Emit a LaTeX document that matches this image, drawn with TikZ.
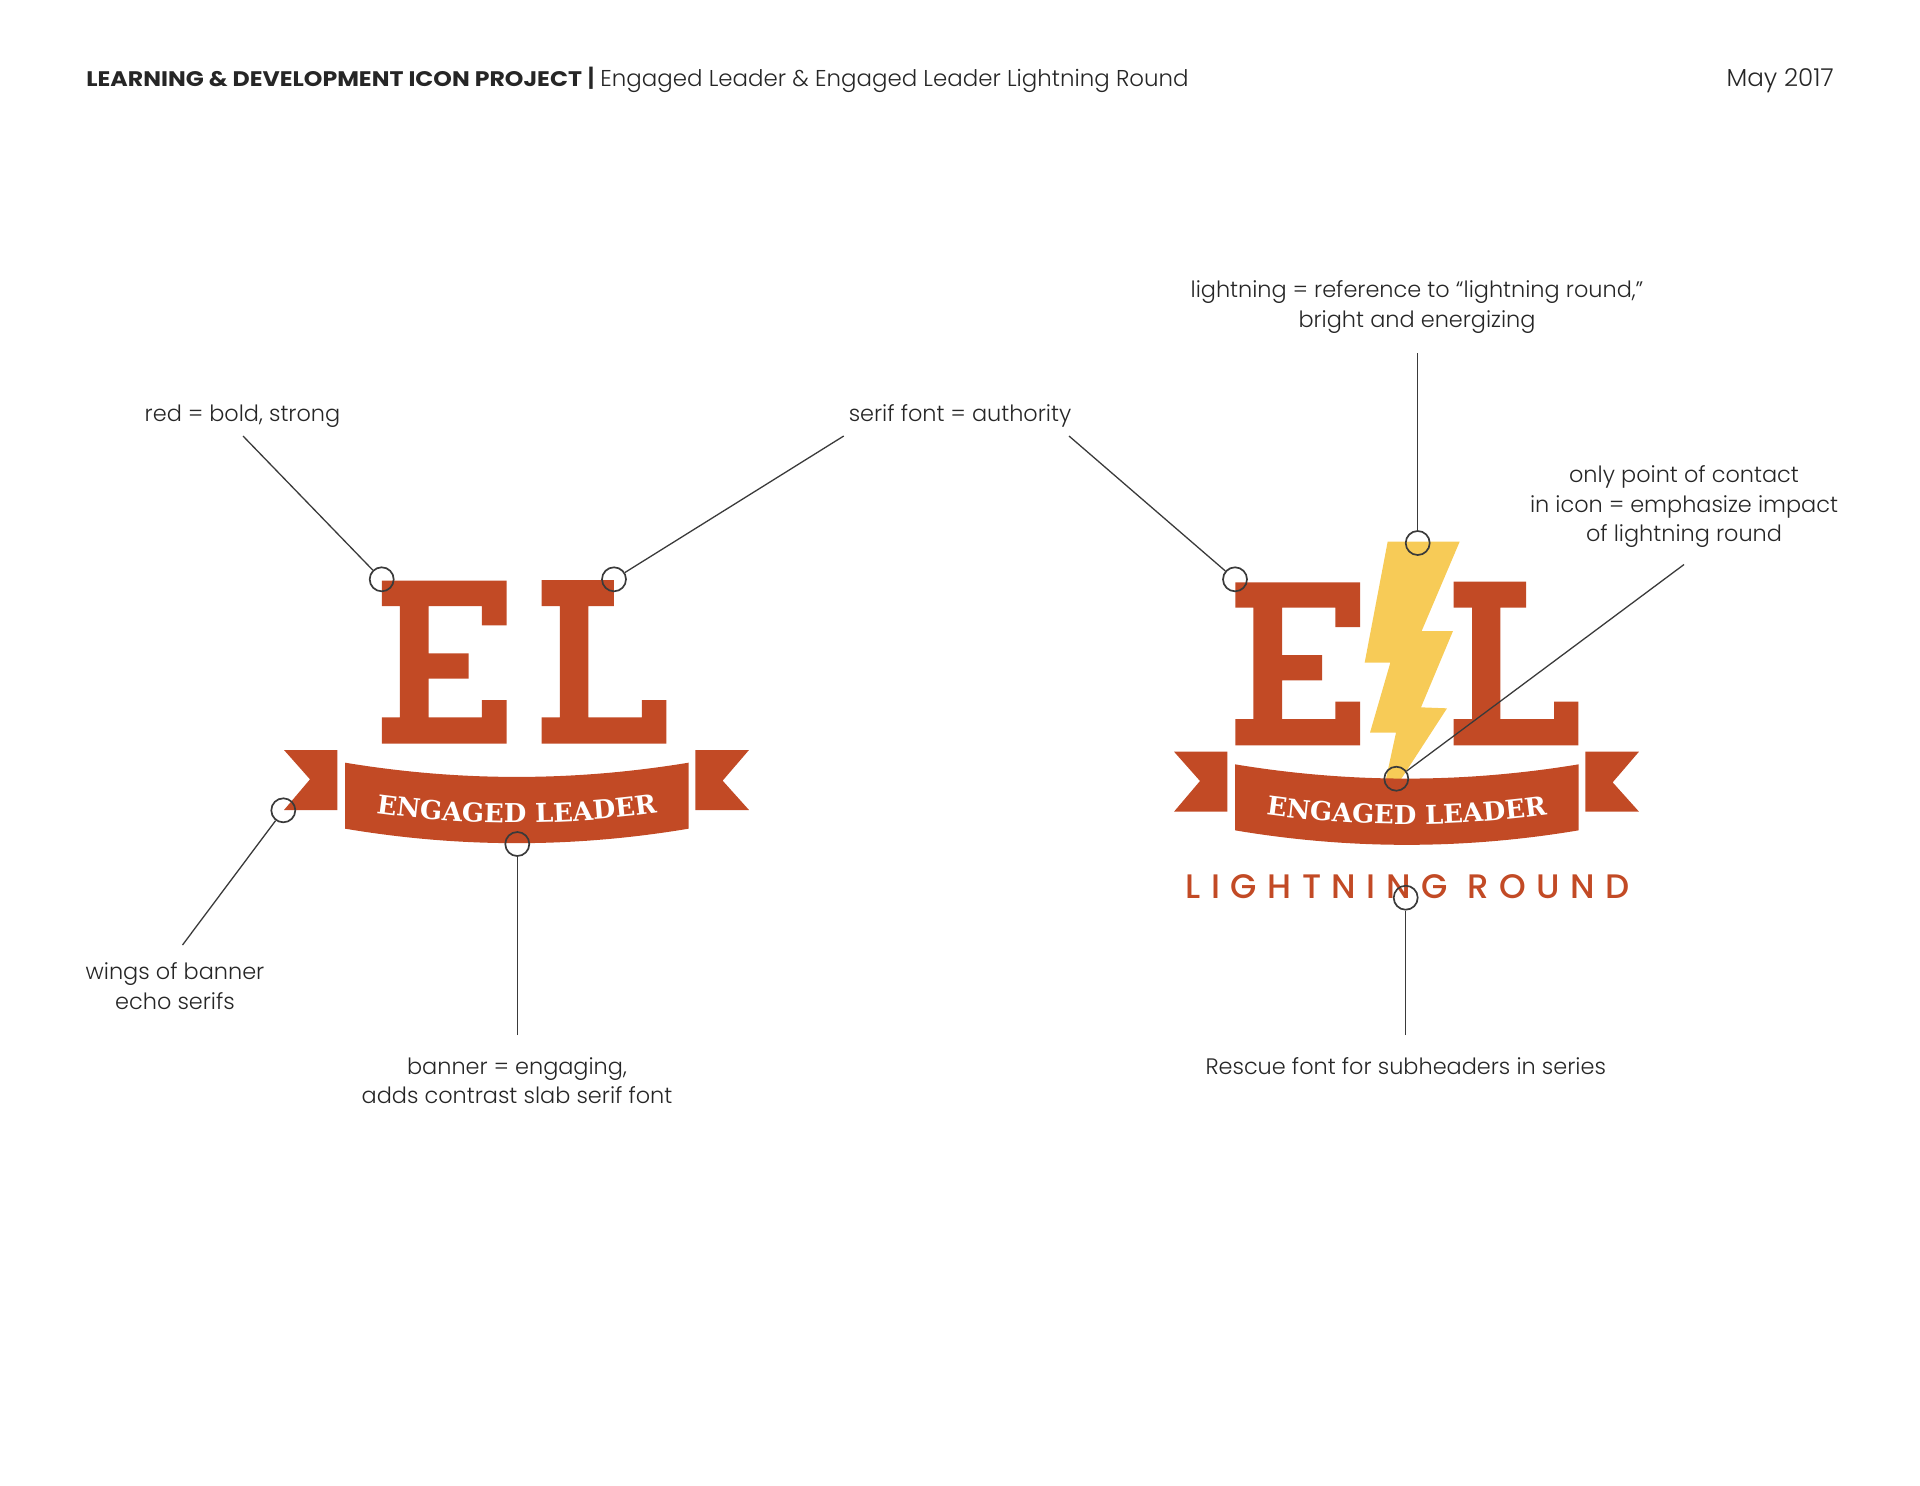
\documentclass[tikz,border=0pt]{standalone}
\usepackage{fontspec}
\usetikzlibrary{decorations.text}
\setmainfont{Poppins Light}
\newfontfamily\hdfont[FakeStretch=1.12]{Poppins}
\newfontfamily\slabfont{DejaVu Serif}
\newfontfamily\roundfont[LetterSpace=31]{Poppins Medium}
\definecolor{brick}{HTML}{C24A25}
\definecolor{bolt}{HTML}{F7CB57}
\definecolor{ink}{HTML}{262626}
\definecolor{wire}{HTML}{3A3A3A}
\newcommand{\ELetter}{(366,122)--(740,122)--(740,256)--(666,256)--(666,198)--(506,198)--(506,340)--(626,340)--(626,416)--(506,416)--(506,532)--(666,532)--(666,480)--(740,480)--(740,611)--(366,611)--(366,532)--(420,532)--(420,198)--(366,198)--cycle}
\newcommand{\LLetter}{(845,120)--(1062,120)--(1062,198)--(985,198)--(985,532)--(1146,532)--(1146,480)--(1219,480)--(1219,611)--(845,611)--(845,532)--(900,532)--(900,198)--(845,198)--cycle}
\newcommand{\BannerShape}{(72,630)--(232,630)--(232,810)--(72,810)--(150,718)--cycle
 (1306,630)--(1467,630)--(1388,722)--(1467,810)--(1306,810)--cycle
 (255,668) .. controls (600,725) and (940,725) .. (1286,668) -- (1286,866) .. controls (940,924) and (600,924) .. (255,866) -- cycle}
\newcommand{\BannerText}{\path[postaction={decorate},decoration={text along path,text align=center,text={|\slabfont\bfseries\fontsize{13}{15}\selectfont\color{white}|ENGAGED LEADER}}]
   (340,818) .. controls (620,858) and (920,858) .. (1200,818);}
\tikzset{
 note/.style={font=\fontsize{11.2}{14.75}\selectfont,text=ink,align=center,inner sep=0pt},
 ring/.style={circle,draw=wire,line width=0.85pt,minimum size=12pt,inner sep=0pt},
 lead/.style={draw=wire,line width=0.65pt},
 logo/.style={x=0.5pt/3,y=-0.5pt/3},
}
\begin{document}
\begin{tikzpicture}[x=0.5pt,y=-0.5pt]
\useasboundingbox (0,0) rectangle (1920,1485);
% left logo
\begin{scope}[shift={(260,540)},logo]
 \fill[brick] \ELetter;
 \fill[brick] \LLetter;
 \fill[brick] \BannerShape;
 \BannerText
\end{scope}
% right logo
\begin{scope}[shift={(1150,520)},logo]
 \fill[bolt] (713,65)--(929,65)--(815,333)--(909,333)--(813,562)--(891,565)--(745,790)--(705,790)--(738,638)--(660,638)--(721,428)--(644,428)--cycle;
 \begin{scope}[shift={(-110,65)}]
  \fill[brick] \ELetter;
 \end{scope}
 \begin{scope}[shift={(66,65)}]
  \fill[brick] \LLetter;
 \end{scope}
 \begin{scope}[shift={(0,65)}]
  \fill[brick] \BannerShape;
  \BannerText
 \end{scope}
\end{scope}
\node[anchor=base,inner sep=0pt,text=brick,font=\roundfont\fontsize{17}{18}\selectfont] (round) at (1407.5,898) {LIGHTNING ROUND};
% header
\node[anchor=base west,inner sep=0pt,text=ink,font=\hdfont\bfseries\fontsize{10.55}{12}\selectfont] (hd) at (86,86) {LEARNING \& DEVELOPMENT ICON PROJECT};
\node[anchor=base,inner sep=0pt,text=ink,font=\fontsize{12}{14}\selectfont] (bar) at (591,86) {\textbf{|}};
\node[anchor=base west,inner sep=0pt,text=ink,font=\fontsize{11.45}{14}\selectfont] (title) at (600,86) {Engaged Leader \& Engaged Leader Lightning Round};
\node[anchor=base east,inner sep=0pt,text=ink,font=\fontsize{12.3}{14}\selectfont] (date) at (1834,86) {May 2017};
% rings
\node[ring] (r1) at (381.7,579.3) {};
\node[ring] (r2) at (614,579.3) {};
\node[ring] (r3) at (283.3,810.3) {};
\node[ring] (r4) at (517.3,844) {};
\node[ring] (r5) at (1235,579.3) {};
\node[ring] (r6) at (1417.7,543) {};
\node[ring] (r7) at (1396.3,778.7) {};
\node[ring] (r8) at (1405.7,897.7) {};
% notes
\node[note] (n1) at (242.5,416.5) {red = bold, strong};
\node[note] (n2) at (960,416) {serif font = authority};
\node[note] (n3) at (175,986) {wings of banner\\echo serifs};
\node[note] (n4) at (517,1080.5) {banner = engaging,\\adds contrast slab serif font};
\node[note] (n5) at (1417,307) {lightning = reference to “lightning round,”\\bright and energizing};
\node[note] (n6) at (1684,507) {only point of contact\\in icon = emphasize impact\\of lightning round};
\node[note] (n7) at (1405.7,1066) {Rescue font for subheaders in series};
% leaders
\coordinate (a1) at (243,436);
\coordinate (a2) at (843.7,436);
\coordinate (a3) at (182.5,945);
\coordinate (a4) at (517.3,1035);
\coordinate (a5) at (1069,436);
\coordinate (a6) at (1417.7,353);
\coordinate (a7) at (1684,564.5);
\coordinate (a8) at (1405.7,1035);
\draw[lead] (a1) -- (r1);
\draw[lead] (a2) -- (r2);
\draw[lead] (a3) -- (r3);
\draw[lead] (a4) -- (r4);
\draw[lead] (a5) -- (r5);
\draw[lead] (a6) -- (r6);
\draw[lead] (a7) -- (r7);
\draw[lead] (a8) -- (r8);
\end{tikzpicture}
\end{document}
